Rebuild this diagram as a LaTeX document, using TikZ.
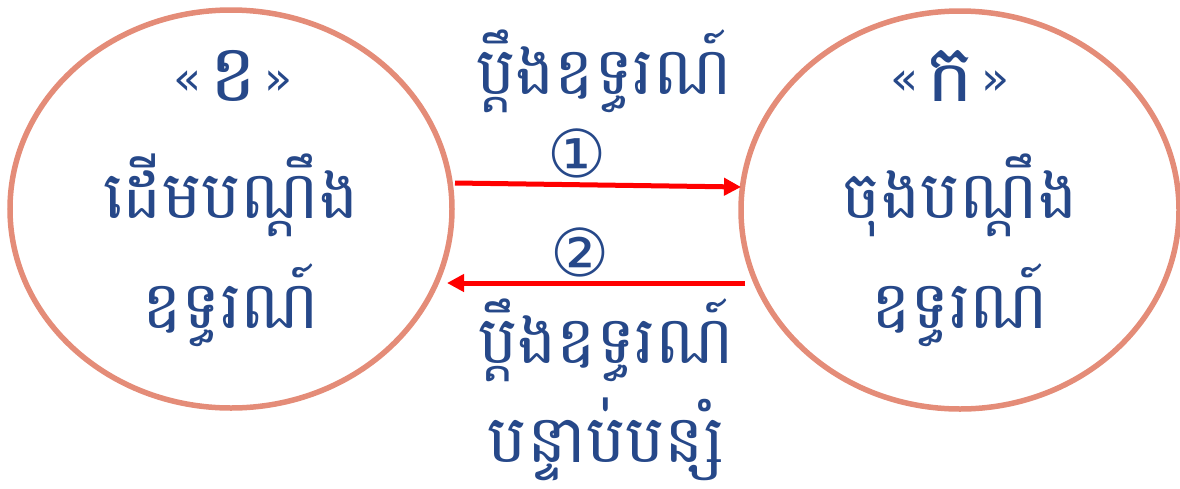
\documentclass[tikz,border=0pt]{standalone}
\usepackage{fontspec}
\usetikzlibrary{arrows.meta}
\newfontfamily\khmer[Script=Khmer]{Battambang}
\newfontfamily\sym{DejaVu Sans}
\definecolor{ring}{HTML}{E48C78}
\definecolor{ink}{HTML}{264889}
\definecolor{arr}{HTML}{FF0000}
\newcommand{\guil}[1]{\raisebox{7pt}{\sym\fontsize{46}{50}\selectfont #1}}
\begin{document}
\begin{tikzpicture}[x=1pt,y=-1pt,
  circ/.style={draw=ring,line width=5.5pt},
  big/.style={text=ink,font=\khmer\fontsize{66}{72}\selectfont,inner sep=0pt},
  tag/.style={text=ink,font=\khmer\fontsize{80}{84}\selectfont,inner sep=0pt},
  num/.style={text=ink,font=\sym\fontsize{66}{70}\selectfont,inner sep=0pt},
  link/.style={draw=arr,line width=5pt,-{Triangle[length=17pt,width=17pt]}}]
\useasboundingbox (0,0) rectangle (1180,488);
\path (231,209) coordinate (lc);
\path (960,210) coordinate (rc);
\draw[circ] (lc) ellipse [x radius=221, y radius=199];
\draw[circ] (rc) ellipse [x radius=219, y radius=199];
\node[tag,anchor=base] (lb) at (233,101) {\guil{«}\hspace{8pt}ខ\hspace{8pt}\guil{»}};
\node[big] (l1) at (231,195) {ដើមបណ្តឹង};
\node[big] (l2) at (231,305) {ឧទ្ធរណ៍};
\node[tag,anchor=base] (rb) at (950,101) {\guil{«}\hspace{8pt}ក\hspace{8pt}\guil{»}};
\node[big] (r1) at (960,195) {ចុងបណ្តឹង};
\node[big] (r2) at (960,305) {ឧទ្ធរណ៍};
\node[big] (t1) at (604,71) {ប្តឹងឧទ្ធរណ៍};
\node[num] (n1) at (577,153) {①};
\node[num] (n2) at (580,252) {②};
\node[big] (b1) at (606,340) {ប្តឹងឧទ្ធរណ៍};
\node[big,text depth=8pt] (b2) at (606,434) {បន្ទាប់បន្សំ};
\coordinate (a1s) at (455,183);
\coordinate (a1e) at (741,187);
\coordinate (a2s) at (745,283);
\coordinate (a2e) at (447,283);
\draw[link] (a1s) -- (a1e);
\draw[link] (a2s) -- (a2e);
\end{tikzpicture}
\end{document}
